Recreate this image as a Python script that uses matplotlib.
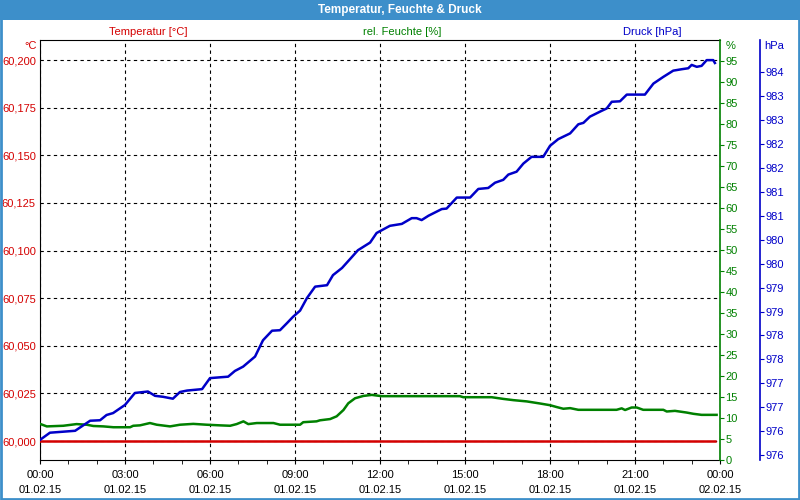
import matplotlib
matplotlib.use("Agg")
import matplotlib.pyplot as plt
from matplotlib.patches import Rectangle
from matplotlib.ticker import FuncFormatter, MultipleLocator

plt.rcParams['font.family'] = ['Liberation Sans', 'DejaVu Sans']
plt.rcParams['font.size'] = 8

RED = '#d40000'
GREEN = '#008000'
BLUE = '#0000c8'
BAR = '#3d8fca'

# Druck (hPa) - Stunden seit 01.02.15 00:00
p_hours = [0, 0.35, 1.24, 1.77, 2.12, 2.35, 2.58, 3.0, 3.35, 3.81, 4.06, 4.34, 4.69, 4.94,
           5.19, 5.72, 6.0, 6.64, 6.88, 7.17, 7.59, 7.87, 8.19, 8.47, 8.72, 8.93, 9.18,
           9.42, 9.71, 10.13, 10.34, 10.66, 11.01, 11.22, 11.65, 11.88, 12.35, 12.77,
           13.12, 13.29, 13.47, 13.71, 14.18, 14.35, 14.71, 15.18, 15.47, 15.82, 16.06,
           16.35, 16.53, 16.82, 17.06, 17.35, 17.76, 18.0, 18.29, 18.71, 19.0, 19.18,
           19.41, 19.82, 20.0, 20.18, 20.47, 20.71, 21.35, 21.65, 22.0, 22.35, 22.65,
           22.88, 23.0, 23.18, 23.35, 23.53, 23.76, 23.82]
pressure = [976.07, 976.22, 976.26, 976.47, 976.48, 976.59, 976.63, 976.80, 977.05, 977.08,
            976.99, 976.97, 976.93, 977.07, 977.10, 977.13, 977.36, 977.39, 977.51, 977.60,
            977.81, 978.15, 978.35, 978.36, 978.51, 978.64, 978.77, 979.03, 979.27, 979.30,
            979.51, 979.66, 979.89, 980.03, 980.19, 980.39, 980.54, 980.58, 980.70, 980.70,
            980.66, 980.75, 980.89, 980.90, 981.13, 981.13, 981.31, 981.33, 981.44, 981.50,
            981.61, 981.67, 981.84, 981.98, 981.98, 982.21, 982.35, 982.47, 982.66, 982.69,
            982.82, 982.94, 982.99, 983.13, 983.14, 983.28, 983.28, 983.51, 983.65, 983.78,
            983.81, 983.83, 983.90, 983.86, 983.88, 984.00, 984.00, 983.94]

# rel. Feuchte (%)
h_hours = [0, 0.24, 0.82, 1.29, 1.65, 1.88, 2.24, 2.59, 3.18, 3.29, 3.53, 3.88, 4.12,
           4.59, 4.94, 5.41, 5.88, 6.35, 6.71, 6.94, 7.18, 7.35, 7.65, 8.24, 8.47, 9.18,
           9.29, 9.76, 9.88, 10.24, 10.47, 10.71, 10.88, 11.12, 11.41, 11.71, 12.06,
           12.18, 14.82, 14.94, 15.94, 16.35, 16.71, 17.18, 17.65, 18.0, 18.24, 18.47,
           18.71, 19.0, 20.35, 20.53, 20.65, 20.88, 21.06, 21.29, 22.0, 22.12, 22.41,
           22.82, 23.06, 23.35, 23.88]
humidity = [8.6, 8.0, 8.15, 8.55, 8.4, 8.1, 8.0, 7.8, 7.8, 8.15, 8.25, 8.8, 8.4, 8.0,
            8.4, 8.6, 8.4, 8.25, 8.15, 8.55, 9.2, 8.55, 8.8, 8.8, 8.4, 8.4, 9.0, 9.2, 9.45,
            9.75, 10.4, 11.9, 13.5, 14.7, 15.25, 15.5, 15.2, 15.2, 15.2, 14.95, 14.95,
            14.55, 14.25, 13.95, 13.45, 13.05, 12.6, 12.2, 12.35, 11.95, 11.95, 12.3,
            11.9, 12.5, 12.5, 11.95, 11.95, 11.55, 11.7, 11.3, 11.0, 10.75, 10.75]

# Temperatur (°C)
t_hours = [0, 23.82]
temperature = [60.0, 60.0]

x_ticks = [0, 3, 6, 9, 12, 15, 18, 21, 24]
x_labels = ['00:00\n01.02.15', '03:00\n01.02.15', '06:00\n01.02.15', '09:00\n01.02.15',
            '12:00\n01.02.15', '15:00\n01.02.15', '18:00\n01.02.15', '21:00\n01.02.15',
            '00:00\n02.02.15']

fig = plt.figure(figsize=(8, 5), dpi=100)
fig.patch.set_facecolor('white')

ax = fig.add_axes([0.05, 0.08, 0.85, 0.84])
ax_h = ax.twinx()
ax_p = ax.twinx()

# temperature axis (left)
ax.plot(t_hours, temperature, color=RED, lw=1.8, zorder=3)
ax.set_xlim(0, 24)
ax.set_ylim(59.99003, 60.2105)
ax.yaxis.set_major_locator(MultipleLocator(0.025))
ax.yaxis.set_major_formatter(FuncFormatter(lambda v, p: ('%.3f' % v).replace('.', ',')))
ax.tick_params(axis='y', colors=RED, length=0, pad=3, labelsize=8)
ax.set_xticks(x_ticks)
ax.set_xticklabels(x_labels, color='black', fontsize=8, linespacing=1.7)
ax.xaxis.set_minor_locator(MultipleLocator(1))
ax.tick_params(axis='x', which='both', length=3, pad=4)
ax.grid(True, color='black', linestyle=(0, (3, 3)), linewidth=0.8)
ax.spines['right'].set_visible(False)

# humidity axis (right, green)
ax_h.plot(h_hours, humidity, color=GREEN, lw=1.8, zorder=3)
ax_h.set_ylim(0, 100)
ax_h.set_yticks(list(range(0, 100, 5)))
ax_h.tick_params(axis='y', colors=GREEN, length=3, pad=1, labelsize=8)
ax_h.spines['right'].set_color(GREEN)
ax_h.spines['right'].set_linewidth(1.2)
for s in ['left', 'top', 'bottom']:
    ax_h.spines[s].set_visible(False)

# pressure axis (outer right, blue)
ax_p.plot(p_hours, pressure, color=BLUE, lw=1.8, zorder=3)
ax_p.set_ylim(975.65, 984.42)
ax_p.set_yticks([975.75 + 0.5 * k for k in range(17)])
ax_p.yaxis.set_major_formatter(FuncFormatter(lambda v, p: '%.0f' % v))
ax_p.spines['right'].set_position(('axes', 1.0588))
ax_p.spines['right'].set_color(BLUE)
ax_p.spines['right'].set_linewidth(1.2)
ax_p.tick_params(axis='y', colors=BLUE, length=3, pad=1, labelsize=8)
for s in ['left', 'top', 'bottom']:
    ax_p.spines[s].set_visible(False)

# title bar and frame
fig.patches.append(Rectangle((0, 0.96), 1, 0.04, transform=fig.transFigure,
                             facecolor=BAR, edgecolor='none', zorder=0))
fig.patches.append(Rectangle((0.001, 0.002), 0.998, 0.996, transform=fig.transFigure,
                             facecolor='none', edgecolor=BAR, lw=2, zorder=5))
fig.text(0.5, 0.98, 'Temperatur, Feuchte & Druck', color='white', fontweight='bold',
         fontsize=8.5, ha='center', va='center')

fig.text(0.185, 0.936, 'Temperatur [°C]', color=RED, ha='center', va='center')
fig.text(0.503, 0.936, 'rel. Feuchte [%]', color=GREEN, ha='center', va='center')
fig.text(0.815, 0.936, 'Druck [hPa]', color=BLUE, ha='center', va='center')
fig.text(0.046, 0.908, '°C', color=RED, ha='right', va='center')
fig.text(0.907, 0.908, '%', color=GREEN, ha='left', va='center')
fig.text(0.955, 0.908, 'hPa', color=BLUE, ha='left', va='center')

fig.savefig('out.png', dpi=100)
